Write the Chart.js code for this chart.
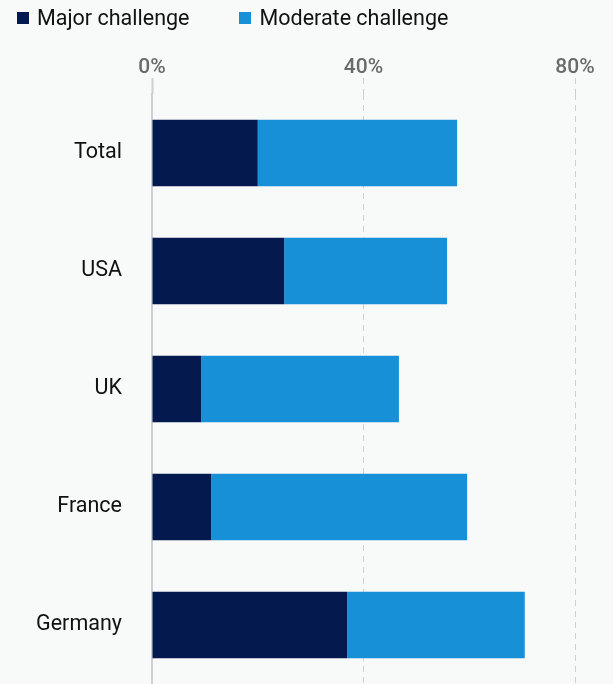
<!DOCTYPE html>
<html>
<head>
<meta charset="utf-8">
<script src="https://cdn.jsdelivr.net/npm/chart.js@4"></script>
<style>
  html, body { margin: 0; padding: 0; background: #f8f9f9; }
  #wrap { width: 613px; height: 684px; position: relative; }
  #legend { position: absolute; left: 17px; top: 4px; display: flex; font: 21.5px Roboto, sans-serif; color: #111; }
  #legend span { display: flex; align-items: center; margin-right: 50px; line-height: 28px; }
  #legend i { display: inline-block; width: 12px; height: 12px; margin-right: 8px; }
</style>
</head>
<body>
<div id="wrap">
  <canvas id="challengeChart"></canvas>
  <div id="legend"></div>
</div>
<script>
const countries = ['Total', 'USA', 'UK', 'France', 'Germany']
const majorChallenge = [20, 25, 9.3, 11.2, 36.9]
const moderateChallenge = [37.7, 30.8, 37.4, 48.4, 33.6]
const xTicks = [0, 40, 80]
const seriesNames = ['Major challenge', 'Moderate challenge']
const seriesColors = ['#041a4f', '#1890d8']

const ctx = document.getElementById('challengeChart').getContext('2d')
const chart = new Chart(ctx, {
  type: 'bar',
  data: {
    labels: countries,
    datasets: [{
      label: seriesNames[0],
      data: majorChallenge,
      backgroundColor: seriesColors[0]
    }, {
      label: seriesNames[1],
      data: moderateChallenge,
      backgroundColor: seriesColors[1]
    }]
  },
  options: {
    indexAxis: 'y',
    responsive: true,
    maintainAspectRatio: false,
    animation: false,
    categoryPercentage: 1,
    barPercentage: 0.565,
    layout: { padding: { left: 0, right: 38, top: 42, bottom: 0 } },
    plugins: {
      tooltip: { enabled: false },
      legend: { display: false }
    },
    scales: {
      x: {
        position: 'top',
        stacked: true,
        min: 0,
        max: 80,
        afterBuildTicks: scale => {
          scale.ticks = xTicks.map(v => ({ value: v }))
        },
        afterFit: scale => { scale.height = 52 },
        ticks: {
          callback: v => v + '%',
          color: '#6a6a6a',
          padding: -2,
          maxRotation: 0,
          font: { family: 'Roboto', size: 21, weight: '500' }
        },
        grid: {
          // the 0% line is drawn by the y axis border, keep only its tick mark
          color: c => c.index === 0 ? 'rgba(0,0,0,0)' : '#d0d0d0',
          lineWidth: 1,
          tickLength: 16,
          tickColor: '#cfcfcf',
          tickWidth: c => c.index === 0 ? 2 : 1,
          tickBorderDash: c => c.index === 0 ? [] : [6, 5]
        },
        border: { display: false, dash: [6, 5] }
      },
      y: {
        stacked: true,
        afterFit: scale => {
          scale.width = 152
          scale.paddingTop = 0
          scale.paddingBottom = 0
        },
        ticks: {
          color: '#111',
          padding: 30,
          font: { family: 'Roboto', size: 21.5 }
        },
        grid: { display: false, drawTicks: false },
        border: { display: true, color: '#cfcfcf', width: 2 }
      }
    }
  }
})

// legend as plain html so the item spacing can be set freely
const legendEl = document.getElementById('legend')
chart.data.datasets.forEach(ds => {
  const item = document.createElement('span')
  const box = document.createElement('i')
  box.style.background = ds.backgroundColor
  item.appendChild(box)
  item.appendChild(document.createTextNode(ds.label))
  legendEl.appendChild(item)
})
</script>
</body>
</html>
